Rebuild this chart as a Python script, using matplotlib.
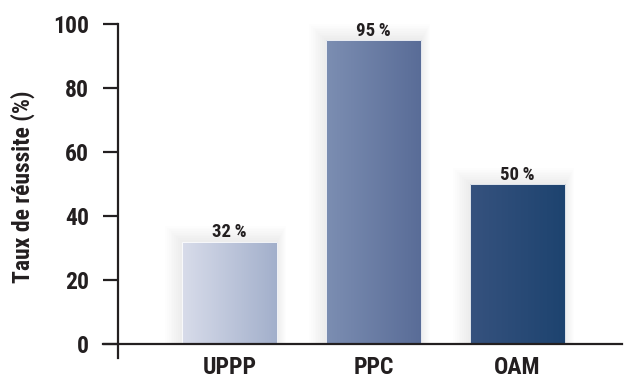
import numpy as np
import matplotlib
matplotlib.use("Agg")
from matplotlib import pyplot as plt
from matplotlib.colors import LinearSegmentedColormap

# Data ----------------------------------------------------------#
categories = ["UPPP", "PPC", "OAM"]
values = [32, 95, 50]
labels = ["32\u2009%", "95\u2009%", "50\u2009%"]
yticks = [0, 20, 40, 60, 80, 100]

# gradient colours (left -> right) for each bar
grad_left = ["#d8dcea", "#7c8eb2", "#36527e"]
grad_right = ["#a2afcb", "#596c97", "#1d436f"]

FONT = ["Roboto Condensed", "DejaVu Sans"]
INK = "#231f20"
plt.rcParams["font.family"] = FONT
plt.rcParams["font.weight"] = "bold"

fig = plt.figure(figsize=(6.26, 3.79), dpi=100)
W, H = 626, 379

# axes frame in pixels
px_left, px_right, px_top, px_bot = 103, 622, 24, 358
ax = fig.add_axes([px_left / W, 1 - px_bot / H,
                   (px_right - px_left) / W, (px_bot - px_top) / H])

x = np.arange(len(categories))
unit = 144.0  # px per category
x0 = (px_left - 229.5) / unit
x1 = (px_right - 229.5) / unit
ymin = -(px_bot - 344) / 3.2

width = 0.66
bars = ax.bar(x, values, width, color="none", edgecolor="none", zorder=3)

# soft shadow behind the bars
for b in bars:
    bx, bw, bh = b.get_x(), b.get_width(), b.get_height()
    for k in range(1, 10):
        dx = k * 0.011
        sh = plt.Rectangle((bx - dx * 1.2, 0), bw + dx * 1.8, bh + k * 0.55,
                           facecolor="#000000", alpha=0.006, edgecolor="none",
                           zorder=2)
        ax.add_patch(sh)

# gradient fill clipped to each bar
for b, cl, cr in zip(bars, grad_left, grad_right):
    cmap = LinearSegmentedColormap.from_list("g", [cl, cr])
    grad = np.linspace(0, 1, 256).reshape(1, -1)
    im = ax.imshow(grad, cmap=cmap, aspect="auto", zorder=3,
                   extent=[b.get_x(), b.get_x() + b.get_width(), 0, b.get_height()])
    im.set_clip_path(b)
    edge = plt.Rectangle((b.get_x(), 0), b.get_width(), b.get_height(),
                         facecolor="none", edgecolor="white", lw=0.6, zorder=4)
    ax.add_patch(edge)

for xi, v, lab in zip(x, values, labels):
    ax.text(xi, v + 1.3, lab, ha="center", va="baseline", fontsize=13.5,
            fontweight="bold", color=INK, family=FONT)

ax.set_xlim(x0, x1)
ax.set_ylim(ymin, 100)

# spines
spine_x = (118 - 229.5) / unit
for s in ["top", "right"]:
    ax.spines[s].set_visible(False)
ax.spines["left"].set_position(("data", spine_x))
ax.spines["left"].set_bounds(ymin, 100)
ax.spines["bottom"].set_position(("data", 0))
for s in ["left", "bottom"]:
    ax.spines[s].set_linewidth(1.6)
    ax.spines[s].set_color(INK)
    ax.spines[s].set_zorder(5)

ax.set_yticks(yticks)
ax.set_yticklabels([str(t) for t in yticks])
ax.tick_params(axis="y", direction="out", length=11, width=1.6,
               color=INK, labelsize=17, pad=10, labelcolor=INK)
ax.set_xticks(x)
ax.set_xticklabels(categories)
ax.tick_params(axis="x", length=0, labelsize=17, pad=9, labelcolor=INK)
for t in ax.get_xticklabels() + ax.get_yticklabels():
    t.set_fontweight("bold")
    t.set_family(FONT)

fig.text(23 / W, 1 - 187 / H, "Taux de réussite (%)", rotation=90,
         ha="center", va="center", fontsize=17, fontweight="bold",
         color=INK, family=FONT)

fig.savefig("out.png", dpi=100)
